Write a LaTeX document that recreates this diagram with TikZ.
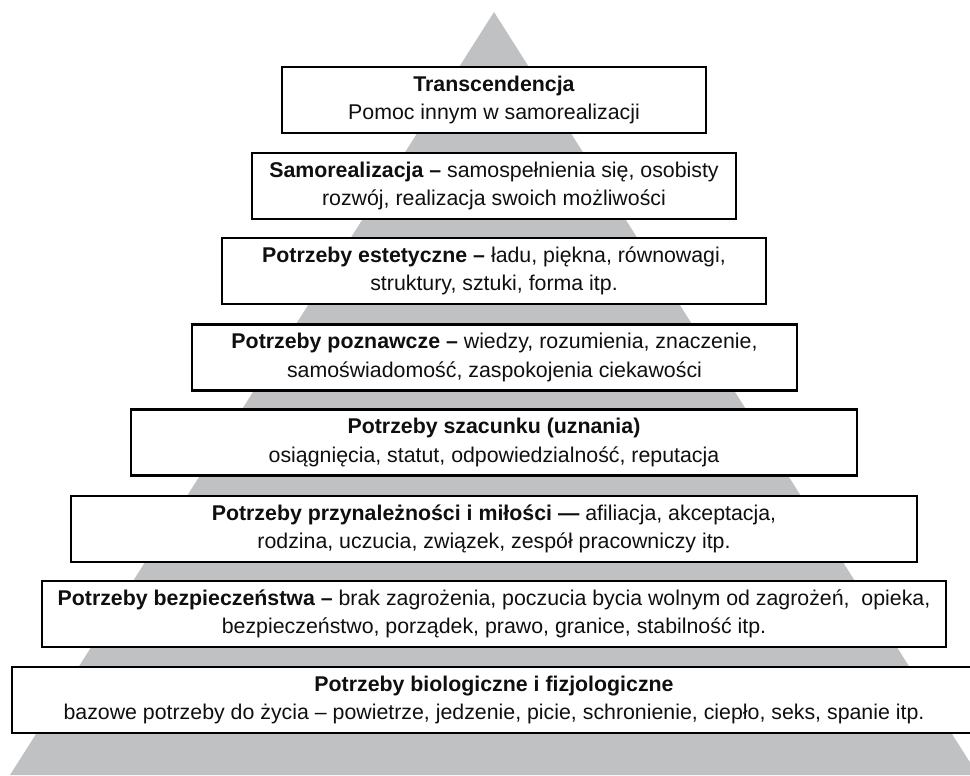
\documentclass[tikz,border=0pt]{standalone}
\usepackage{fontspec}
\setmainfont{Liberation Sans}
\definecolor{pyramidgrey}{RGB}{192,193,195}
\definecolor{inkblack}{RGB}{15,15,15}
\tikzset{
  level/.style={draw=black, line width=2.1pt, fill=white, align=center,
    minimum height=49.5pt, inner sep=0pt, text=inkblack,
    font=\fontsize{16}{21.3}\selectfont},
}
\begin{document}
\begin{tikzpicture}[x=0.75pt, y=-0.75pt]
  \useasboundingbox (0,0) rectangle (970,775);
  \clip (0,0) rectangle (970,775);
  % background pyramid
  \fill[pyramidgrey] (494,12) -- (978,775) -- (10,775) -- cycle;
  % levels, from the top down
  \node[level, minimum width=318pt] (l1) at (494,100)
    {\textbf{Transcendencja}\\Pomoc innym w samorealizacji};
  \node[level, minimum width=363pt] (l2) at (494,186)
    {\textbf{Samorealizacja –} samospełnienia się, osobisty\\rozwój, realizacja swoich możliwości};
  \node[level, minimum width=408pt] (l3) at (494,271)
    {\textbf{Potrzeby estetyczne –} ładu, piękna, równowagi,\\struktury, sztuki, forma itp.};
  \node[level, minimum width=453.75pt] (l4) at (494.5,357.5)
    {\textbf{Potrzeby poznawcze –} wiedzy, rozumienia, znaczenie,\\samoświadomość, zaspokojenia ciekawości};
  \node[level, minimum width=544.5pt] (l5) at (494,442.5)
    {\textbf{Potrzeby szacunku (uznania)}\\osiągnięcia, statut, odpowiedzialność, reputacja};
  \node[level, minimum width=634.5pt] (l6) at (494,529)
    {\textbf{Potrzeby przynależności i miłości —} afiliacja, akceptacja,\\rodzina, uczucia, związek, zespół pracowniczy itp.};
  \node[level, minimum width=678pt] (l7) at (494,614)
    {\textbf{Potrzeby bezpieczeństwa –} brak zagrożenia, poczucia bycia wolnym od zagrożeń,\ \ opieka,\\bezpieczeństwo, porządek, prawo, granice, stabilność itp.};
  \node[level, minimum width=723pt] (l8) at (494,700)
    {\textbf{Potrzeby biologiczne i fizjologiczne}\\bazowe potrzeby do życia – powietrze, jedzenie, picie, schronienie, ciepło, seks, spanie itp.};
\end{tikzpicture}
\end{document}
